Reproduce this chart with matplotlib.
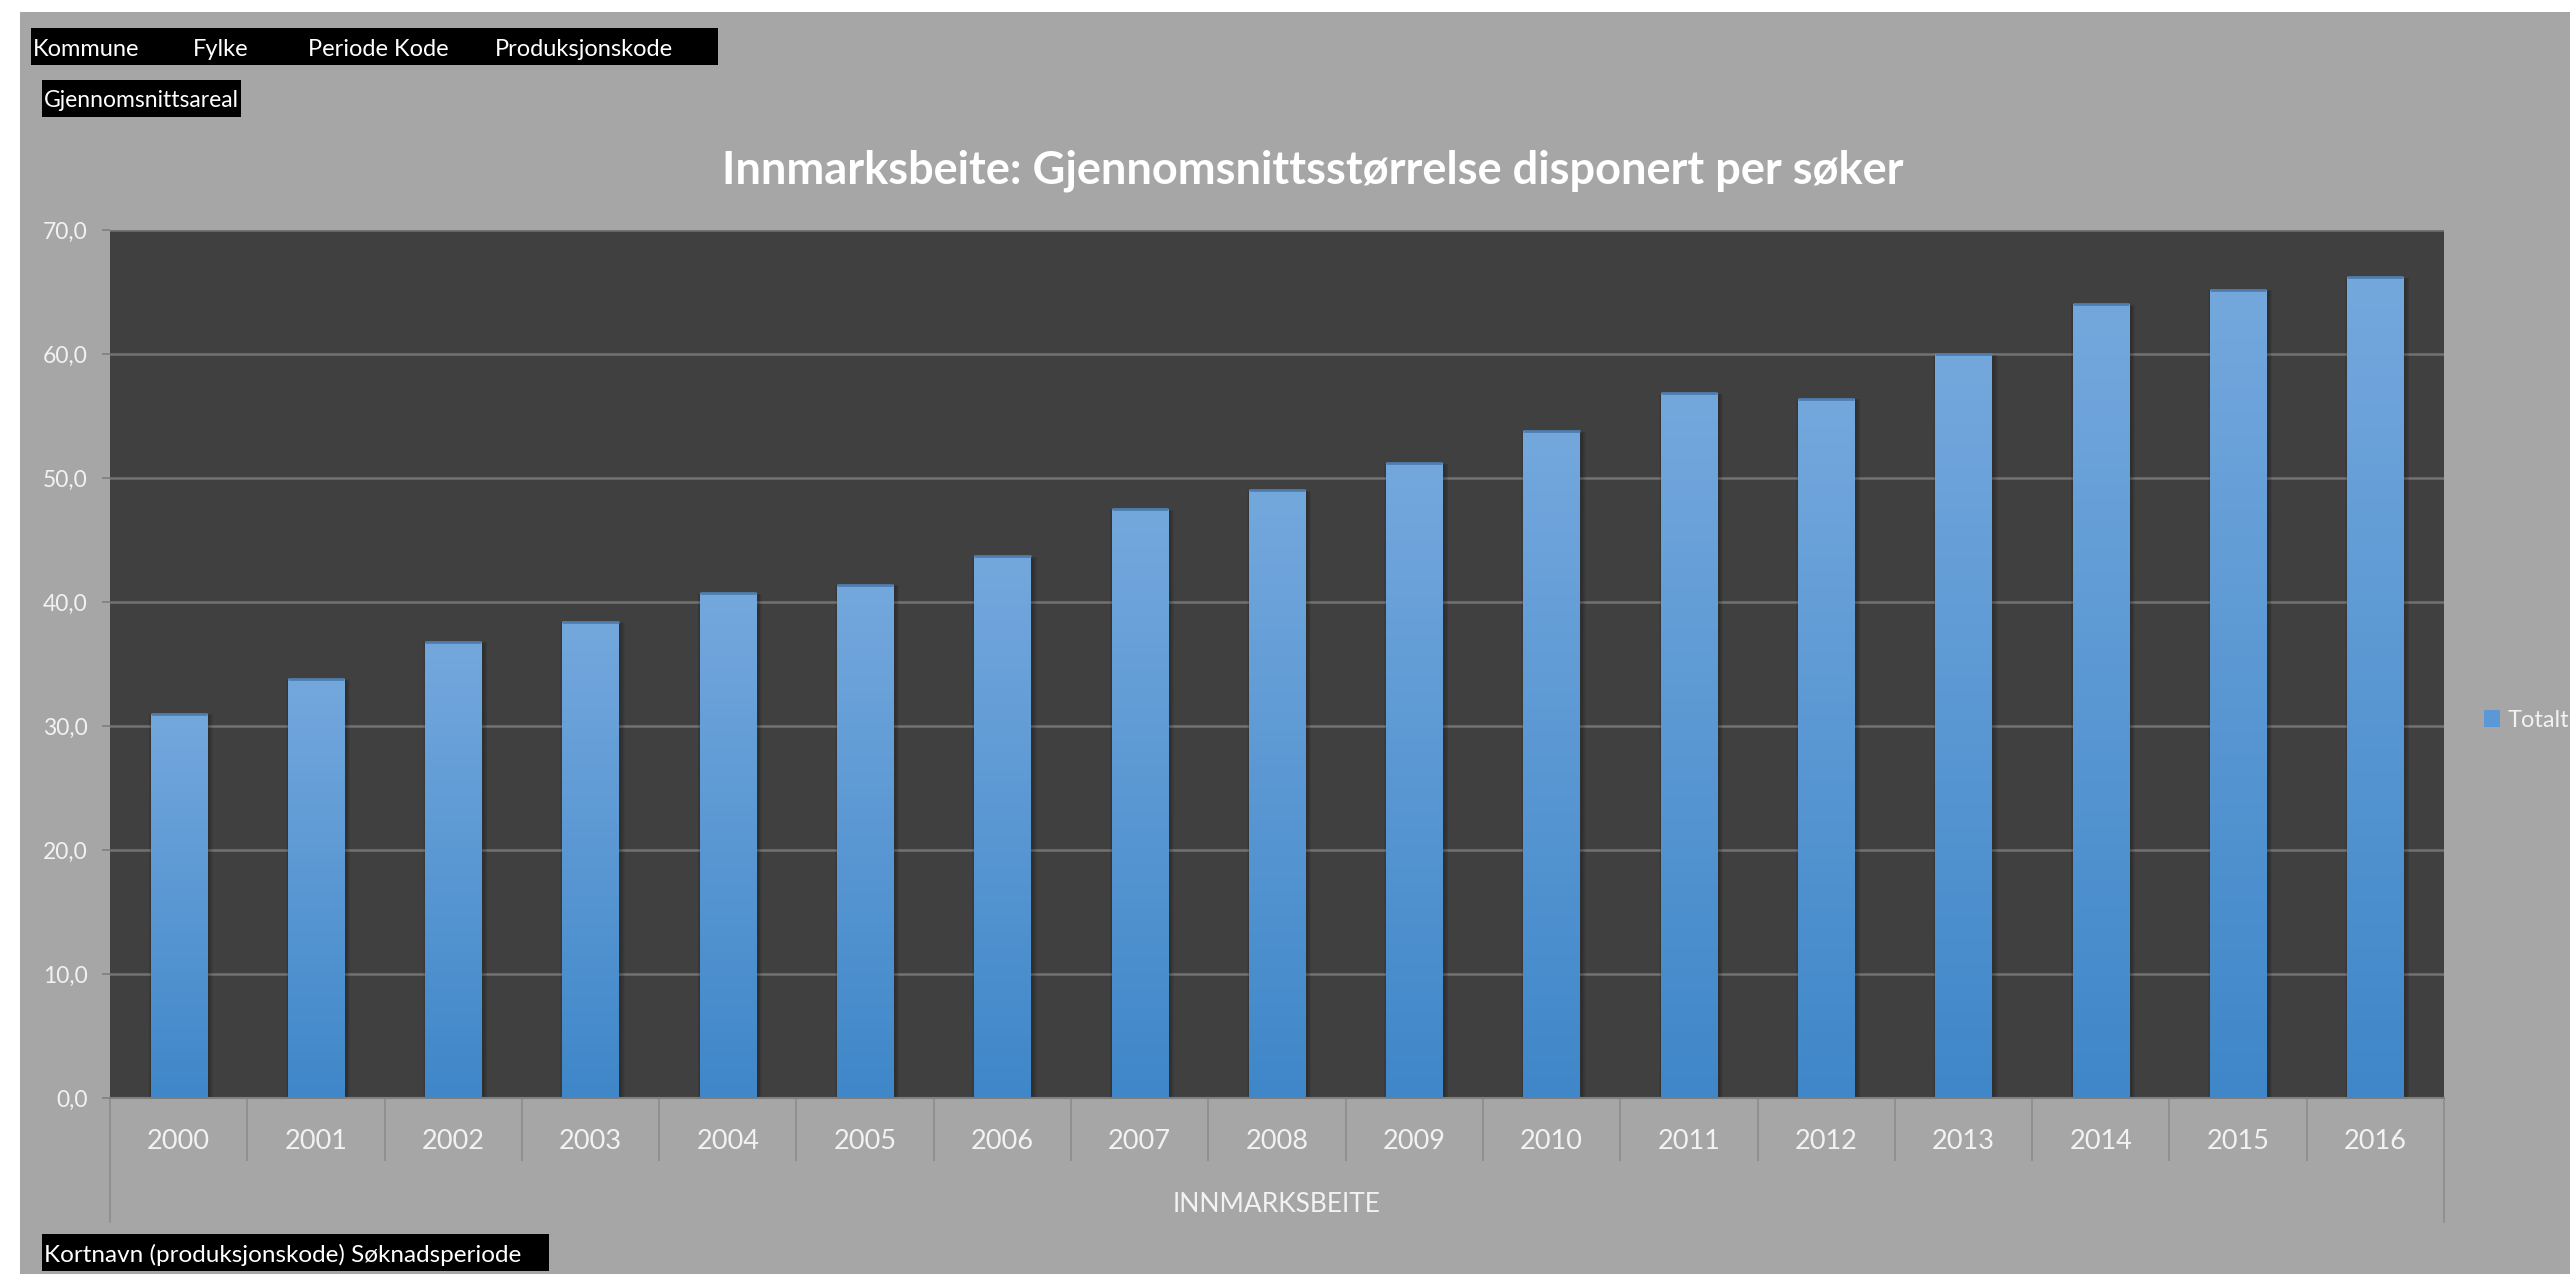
import numpy as np
import matplotlib
matplotlib.use("Agg")
import matplotlib.pyplot as plt
from matplotlib.patches import Rectangle
from matplotlib.colors import LinearSegmentedColormap
from matplotlib.lines import Line2D

plt.rcParams['font.family'] = ['Lato', 'DejaVu Sans']

# data
years = ['2000', '2001', '2002', '2003', '2004', '2005', '2006', '2007', '2008',
         '2009', '2010', '2011', '2012', '2013', '2014', '2015', '2016']
totalt = [31.0, 33.8, 36.8, 38.4, 40.7, 41.4, 43.7, 47.5, 49.0,
          51.2, 53.8, 56.85, 56.4, 60.0, 64.0, 65.2, 66.2]
y_ticks = [0, 10, 20, 30, 40, 50, 60, 70]
y_tick_labels = ['0,0', '10,0', '20,0', '30,0', '40,0', '50,0', '60,0', '70,0']
header_fields = ['Kommune', 'Fylke', 'Periode Kode', 'Produksjonskode']

title = 'Innmarksbeite: Gjennomsnittsstørrelse disponert per søker'
W, H = 2570, 1274
BG = '#a6a6a6'
PLOT_BG = '#404040'
TXT = '#f2f2f2'


def fx(x):
    return x / W


def fy(y):
    return 1 - y / H


fig = plt.figure(figsize=(W / 100, H / 100), dpi=100, facecolor='white')
# grey chart area (thin white strip top and left)
fig.patches.append(Rectangle((fx(20), 0), 1 - fx(20), fy(12), transform=fig.transFigure,
                             facecolor=BG, edgecolor='none', zorder=-1))

ax = fig.add_axes([fx(110), fy(1098), fx(2444) - fx(110), fy(230) - fy(1098)])
ax.set_zorder(1)
ax.set_facecolor(PLOT_BG)

x = np.arange(len(years))
bw = 0.41
bars = ax.bar(x, totalt, width=bw, color='#5a98d6', edgecolor='none', zorder=3, label='Totalt')

# gradient fill + soft shadow for each bar
cmap = LinearSegmentedColormap.from_list('bar', ['#3f87c9', '#74a8dd'])
grad = np.linspace(0, 1, 256).reshape(-1, 1)
px_x = 17 / 2334
px_y = 70 / 868
for b in bars:
    x0, w, h = b.get_x(), b.get_width(), b.get_height()
    for k in range(1, 6):
        ax.add_patch(Rectangle((x0 - k * px_x * 0.8 + 2 * px_x, -1), w + 2 * k * px_x * 0.8,
                               h + 1 + k * px_y * 0.3 - 2 * px_y,
                               facecolor='black', edgecolor='none', alpha=0.05, zorder=2))
    im = ax.imshow(grad, cmap=cmap, aspect='auto', origin='lower',
                   extent=[x0, x0 + w, 0, h], zorder=3.5)
    im.set_clip_path(b)
    ax.plot([x0, x0 + w], [h, h], color='#4e7eb0', lw=2, zorder=4, solid_capstyle='butt')

ax.set_xlim(-0.5, len(years) - 0.5)
ax.set_ylim(0, 70)

ax.set_yticks(y_ticks)
ax.set_yticklabels(y_tick_labels, fontsize=16.5, color=TXT)
ax.yaxis.grid(True, color='#727272', lw=1.8, zorder=1)
ax.set_axisbelow(True)
ax.tick_params(axis='y', length=6, width=1.2, color='#7f7f7f', pad=10)

ax.set_xticks(x)
ax.set_xticklabels(years, fontsize=19.5, color=TXT)
ax.tick_params(axis='x', which='major', length=0, pad=22)
ax.set_xticks(np.arange(0.5, len(years) - 1, 1), minor=True)
ax.tick_params(axis='x', which='minor', length=45, width=1.2, color='#8c8c8c')

for side in ['top', 'right', 'left']:
    ax.spines[side].set_visible(False)
ax.spines['bottom'].set_color('#7f7f7f')
ax.spines['bottom'].set_linewidth(1.5)

# outer category bracket lines
drop = -124 / 868
for xa in (0, 1):
    ax.add_line(Line2D([xa, xa], [0, drop], transform=ax.transAxes, color='#8c8c8c',
                       lw=1.2, clip_on=False))

ax.set_xlabel('INNMARKSBEITE', fontsize=19, color=TXT, labelpad=19)

fig.text(fx(1313), fy(183), title, ha='center', va='baseline', fontsize=32.5,
         fontweight='bold', color='white')

leg = ax.legend(loc='center left', bbox_to_anchor=(1.012, 0.435), frameon=False,
                fontsize=17, labelcolor=TXT, handlelength=0.7, handleheight=0.7,
                handletextpad=0.3, borderpad=0)

# pivot field buttons
fig.patches.append(Rectangle((fx(31), fy(65)), fx(718) - fx(31), fy(28) - fy(65),
                             transform=fig.transFigure, facecolor='black', zorder=5))
for name, xp in zip(header_fields, [33, 193, 308, 495]):
    fig.text(fx(xp), fy(56), name, fontsize=17, color='white', va='baseline', zorder=6)

fig.patches.append(Rectangle((fx(42), fy(117)), fx(241) - fx(42), fy(80) - fy(117),
                             transform=fig.transFigure, facecolor='black', zorder=5))
fig.text(fx(44), fy(107), 'Gjennomsnittsareal', fontsize=16.5, color='white', va='baseline', zorder=6)

fig.patches.append(Rectangle((fx(42), fy(1271)), fx(549) - fx(42), fy(1234) - fy(1271),
                             transform=fig.transFigure, facecolor='black', zorder=5))
fig.text(fx(44), fy(1262), 'Kortnavn (produksjonskode) Søknadsperiode', fontsize=17.5,
         color='white', va='baseline', zorder=6)

fig.savefig('out.png', dpi=100, facecolor=fig.get_facecolor())
